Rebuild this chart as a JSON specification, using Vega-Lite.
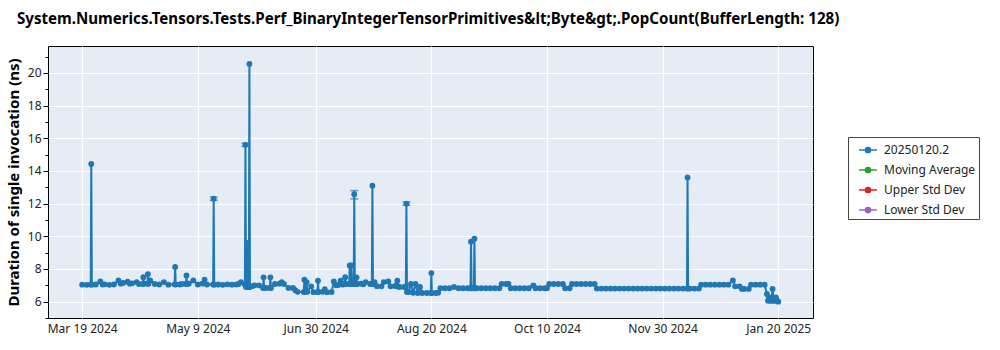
{
  "$schema": "https://vega.github.io/schema/vega-lite/v6.json",
  "autosize": "none",
  "width": 765,
  "height": 272,
  "padding": {"left": 48, "top": 46, "right": 187, "bottom": 32},
  "background": "#ffffff",
  "title": {
    "text": "System.Numerics.Tensors.Tests.Perf_BinaryIntegerTensorPrimitives&lt;Byte&gt;.PopCount(BufferLength: 128)",
    "anchor": "start",
    "frame": "group",
    "dx": -31,
    "offset": 19,
    "font": "Noto Sans",
    "fontSize": 15.1,
    "fontWeight": "bold",
    "color": "#000000"
  },
  "config": {
    "view": {"fill": "#e5ecf6", "stroke": "#000000", "strokeWidth": 1},
    "font": "Noto Sans",
    "legend": {
      "orient": "none",
      "legendX": 800,
      "legendY": 91,
      "strokeColor": "#444444",
      "fillColor": "#ffffff",
      "padding": 3,
      "rowPadding": 4,
      "symbolOffset": 7,
      "labelFont": "Noto Sans",
      "labelFontSize": 12,
      "labelColor": "#222222",
      "labelOffset": 6,
      "title": null
    }
  },
  "data": {"values": [
    {"d": "2024-03-19", "v": 7.04}, {"d": "2024-03-21", "v": 7.03}, {"d": "2024-03-22T18:00", "v": 7.05},
    {"d": "2024-03-23", "v": 14.43}, {"d": "2024-03-23T06:00", "v": 7.04}, {"d": "2024-03-25", "v": 7.05},
    {"d": "2024-03-27", "v": 7.24}, {"d": "2024-03-28", "v": 7.05}, {"d": "2024-03-29", "v": 7.06},
    {"d": "2024-03-31", "v": 7.03},
    {"d": "2024-04-02", "v": 7.05}, {"d": "2024-04-04", "v": 7.3}, {"d": "2024-04-05", "v": 7.1},
    {"d": "2024-04-06", "v": 7.15}, {"d": "2024-04-08", "v": 7.22}, {"d": "2024-04-09", "v": 7.1},
    {"d": "2024-04-10", "v": 7.12}, {"d": "2024-04-12", "v": 7.2}, {"d": "2024-04-13", "v": 7.08},
    {"d": "2024-04-14T18:00", "v": 7.08}, {"d": "2024-04-15", "v": 7.5}, {"d": "2024-04-15T06:00", "v": 7.1},
    {"d": "2024-04-16T18:00", "v": 7.1}, {"d": "2024-04-17", "v": 7.69}, {"d": "2024-04-17T06:00", "v": 7.1},
    {"d": "2024-04-18", "v": 7.3}, {"d": "2024-04-20", "v": 7.08},
    {"d": "2024-04-22", "v": 7.05}, {"d": "2024-04-24", "v": 7.2}, {"d": "2024-04-26", "v": 7.04},
    {"d": "2024-04-28T18:00", "v": 7.06}, {"d": "2024-04-29", "v": 8.12}, {"d": "2024-04-29T06:00", "v": 7.05},
    {"d": "2024-05-01", "v": 7.05},
    {"d": "2024-05-02", "v": 7.08}, {"d": "2024-05-03T18:00", "v": 7.08}, {"d": "2024-05-04", "v": 7.6},
    {"d": "2024-05-04T06:00", "v": 7.08}, {"d": "2024-05-05", "v": 7.1},
    {"d": "2024-05-07", "v": 7.3}, {"d": "2024-05-09", "v": 7.05}, {"d": "2024-05-11", "v": 7.1},
    {"d": "2024-05-12", "v": 7.35}, {"d": "2024-05-13", "v": 7.05}, {"d": "2024-05-15T18:00", "v": 7.05},
    {"d": "2024-05-16", "v": 12.3, "lo": 12.2, "hi": 12.4}, {"d": "2024-05-16T06:00", "v": 7.04},
    {"d": "2024-05-18", "v": 7.05}, {"d": "2024-05-20", "v": 7.03}, {"d": "2024-05-22", "v": 7.06},
    {"d": "2024-05-24", "v": 7.04}, {"d": "2024-05-26", "v": 7.05}, {"d": "2024-05-27", "v": 7.08}, {"d": "2024-05-28", "v": 7.2},
    {"d": "2024-05-29T18:00", "v": 7.05},
    {"d": "2024-05-30T00:00", "v": 15.6, "lo": 15.5, "hi": 15.7}, {"d": "2024-05-30T06:00", "v": 6.9},
    {"d": "2024-05-30T12:00", "v": 6.9}, {"d": "2024-05-30T16:00", "v": 9.6}, {"d": "2024-05-30T20:00", "v": 6.9},
    {"d": "2024-05-31T12:00", "v": 6.9}, {"d": "2024-05-31T18:00", "v": 20.55}, {"d": "2024-06-01T00:00", "v": 6.9},
    {"d": "2024-06-02", "v": 6.95}, {"d": "2024-06-03", "v": 7.0}, {"d": "2024-06-05", "v": 7.0},
    {"d": "2024-06-06T18:00", "v": 6.84}, {"d": "2024-06-07", "v": 7.49}, {"d": "2024-06-07T06:00", "v": 6.84},
    {"d": "2024-06-08", "v": 6.84}, {"d": "2024-06-09T18:00", "v": 6.84},
    {"d": "2024-06-10", "v": 7.49}, {"d": "2024-06-10T06:00", "v": 6.84}, {"d": "2024-06-12", "v": 7.08},
    {"d": "2024-06-14", "v": 7.1}, {"d": "2024-06-15", "v": 7.2}, {"d": "2024-06-16", "v": 7.08},
    {"d": "2024-06-18", "v": 6.84}, {"d": "2024-06-20", "v": 6.84}, {"d": "2024-06-21", "v": 6.7},
    {"d": "2024-06-22", "v": 6.6}, {"d": "2024-06-24T18:00", "v": 6.59}, {"d": "2024-06-25", "v": 7.34},
    {"d": "2024-06-25T06:00", "v": 6.6}, {"d": "2024-06-26", "v": 7.2}, {"d": "2024-06-26T06:00", "v": 6.6},
    {"d": "2024-06-28", "v": 6.94}, {"d": "2024-06-29", "v": 6.58},
    {"d": "2024-06-30T18:00", "v": 6.58}, {"d": "2024-07-01", "v": 7.28}, {"d": "2024-07-01T06:00", "v": 6.6},
    {"d": "2024-07-03", "v": 6.6}, {"d": "2024-07-04", "v": 6.77},
    {"d": "2024-07-05", "v": 6.58}, {"d": "2024-07-07", "v": 6.59}, {"d": "2024-07-08", "v": 7.24},
    {"d": "2024-07-09", "v": 7.0}, {"d": "2024-07-10", "v": 7.02}, {"d": "2024-07-11", "v": 7.28},
    {"d": "2024-07-12", "v": 7.05}, {"d": "2024-07-12T18:00", "v": 7.08}, {"d": "2024-07-13", "v": 7.5},
    {"d": "2024-07-13T06:00", "v": 7.08}, {"d": "2024-07-14T18:00", "v": 7.08},
    {"d": "2024-07-15", "v": 8.22}, {"d": "2024-07-15T08:00", "v": 7.08}, {"d": "2024-07-15T16:00", "v": 8.22},
    {"d": "2024-07-16", "v": 7.08}, {"d": "2024-07-16T18:00", "v": 7.08},
    {"d": "2024-07-17", "v": 12.58, "lo": 12.29, "hi": 12.8}, {"d": "2024-07-17T06:00", "v": 7.08},
    {"d": "2024-07-17T18:00", "v": 7.08}, {"d": "2024-07-18", "v": 7.49}, {"d": "2024-07-18T06:00", "v": 7.08},
    {"d": "2024-07-20", "v": 7.1}, {"d": "2024-07-21", "v": 7.06},
    {"d": "2024-07-22", "v": 7.2}, {"d": "2024-07-24", "v": 7.08}, {"d": "2024-07-24T18:00", "v": 7.08},
    {"d": "2024-07-25", "v": 13.1}, {"d": "2024-07-25T06:00", "v": 7.08},
    {"d": "2024-07-26", "v": 7.2}, {"d": "2024-07-27", "v": 6.95}, {"d": "2024-07-29", "v": 6.94},
    {"d": "2024-07-30", "v": 7.2},
    {"d": "2024-08-01", "v": 7.24}, {"d": "2024-08-02", "v": 6.94}, {"d": "2024-08-04", "v": 6.96},
    {"d": "2024-08-04T18:00", "v": 6.94}, {"d": "2024-08-05", "v": 7.28}, {"d": "2024-08-05T06:00", "v": 6.94},
    {"d": "2024-08-06", "v": 6.9}, {"d": "2024-08-08", "v": 6.9}, {"d": "2024-08-08T18:00", "v": 6.9},
    {"d": "2024-08-09", "v": 12.0, "lo": 11.9, "hi": 12.1}, {"d": "2024-08-09T06:00", "v": 6.59},
    {"d": "2024-08-10", "v": 6.59},
    {"d": "2024-08-11", "v": 7.08}, {"d": "2024-08-12", "v": 6.55}, {"d": "2024-08-13", "v": 7.08},
    {"d": "2024-08-14", "v": 6.53}, {"d": "2024-08-15", "v": 6.9}, {"d": "2024-08-16", "v": 6.53},
    {"d": "2024-08-18", "v": 6.53}, {"d": "2024-08-19T18:00", "v": 6.53}, {"d": "2024-08-20", "v": 7.75},
    {"d": "2024-08-20T06:00", "v": 6.53}, {"d": "2024-08-22", "v": 6.53},
    {"d": "2024-08-23", "v": 6.55}, {"d": "2024-08-24", "v": 6.82}, {"d": "2024-08-26", "v": 6.82},
    {"d": "2024-08-28", "v": 6.82}, {"d": "2024-08-30", "v": 6.9},
    {"d": "2024-09-01", "v": 6.82}, {"d": "2024-09-03", "v": 6.82}, {"d": "2024-09-05", "v": 6.82},
    {"d": "2024-09-06T06:00", "v": 6.82}, {"d": "2024-09-06T12:00", "v": 9.67}, {"d": "2024-09-06T18:00", "v": 6.82},
    {"d": "2024-09-07T18:00", "v": 6.82}, {"d": "2024-09-08", "v": 9.85}, {"d": "2024-09-08T06:00", "v": 6.82},
    {"d": "2024-09-09", "v": 6.82}, {"d": "2024-09-11", "v": 6.82}, {"d": "2024-09-13", "v": 6.82},
    {"d": "2024-09-15", "v": 6.82}, {"d": "2024-09-17", "v": 6.82}, {"d": "2024-09-19", "v": 6.82},
    {"d": "2024-09-20", "v": 7.08}, {"d": "2024-09-22", "v": 7.08}, {"d": "2024-09-23", "v": 7.08},
    {"d": "2024-09-24", "v": 6.82}, {"d": "2024-09-26", "v": 6.82}, {"d": "2024-09-28", "v": 6.82},
    {"d": "2024-09-30", "v": 6.82},
    {"d": "2024-10-02", "v": 6.82}, {"d": "2024-10-04", "v": 7.0}, {"d": "2024-10-05", "v": 6.82},
    {"d": "2024-10-07", "v": 6.82}, {"d": "2024-10-09", "v": 6.82}, {"d": "2024-10-10", "v": 6.82},
    {"d": "2024-10-11", "v": 7.08}, {"d": "2024-10-13", "v": 7.08}, {"d": "2024-10-15", "v": 7.08},
    {"d": "2024-10-17", "v": 7.08}, {"d": "2024-10-18", "v": 6.82}, {"d": "2024-10-20", "v": 6.82},
    {"d": "2024-10-21", "v": 7.08}, {"d": "2024-10-23", "v": 7.08}, {"d": "2024-10-25", "v": 7.08},
    {"d": "2024-10-27", "v": 7.08}, {"d": "2024-10-29", "v": 7.08}, {"d": "2024-10-31", "v": 7.08},
    {"d": "2024-11-01", "v": 6.8}, {"d": "2024-11-03", "v": 6.8}, {"d": "2024-11-05", "v": 6.8},
    {"d": "2024-11-07", "v": 6.8}, {"d": "2024-11-09", "v": 6.8}, {"d": "2024-11-11", "v": 6.8},
    {"d": "2024-11-13", "v": 6.8}, {"d": "2024-11-15", "v": 6.8}, {"d": "2024-11-17", "v": 6.8},
    {"d": "2024-11-19", "v": 6.8}, {"d": "2024-11-21", "v": 6.8}, {"d": "2024-11-23", "v": 6.8},
    {"d": "2024-11-25", "v": 6.8}, {"d": "2024-11-27", "v": 6.8}, {"d": "2024-11-29", "v": 6.8},
    {"d": "2024-12-01", "v": 6.8}, {"d": "2024-12-03", "v": 6.8}, {"d": "2024-12-05", "v": 6.8},
    {"d": "2024-12-07", "v": 6.8}, {"d": "2024-12-09", "v": 6.8}, {"d": "2024-12-10T18:00", "v": 6.8},
    {"d": "2024-12-11", "v": 13.6}, {"d": "2024-12-11T06:00", "v": 6.8}, {"d": "2024-12-12", "v": 6.8},
    {"d": "2024-12-14", "v": 6.8},
    {"d": "2024-12-16", "v": 6.8}, {"d": "2024-12-17", "v": 7.04}, {"d": "2024-12-19", "v": 7.04},
    {"d": "2024-12-21", "v": 7.04}, {"d": "2024-12-23", "v": 7.04}, {"d": "2024-12-25", "v": 7.04},
    {"d": "2024-12-27", "v": 7.04}, {"d": "2024-12-29", "v": 7.04}, {"d": "2024-12-31", "v": 7.3},
    {"d": "2025-01-01", "v": 6.94}, {"d": "2025-01-03", "v": 6.94}, {"d": "2025-01-04", "v": 6.78},
    {"d": "2025-01-05", "v": 6.78}, {"d": "2025-01-07", "v": 6.78}, {"d": "2025-01-08", "v": 7.04},
    {"d": "2025-01-10", "v": 7.04}, {"d": "2025-01-12", "v": 7.04}, {"d": "2025-01-14", "v": 7.04},
    {"d": "2025-01-15", "v": 6.47}, {"d": "2025-01-15T12:00", "v": 6.06}, {"d": "2025-01-16", "v": 6.26},
    {"d": "2025-01-16T12:00", "v": 6.06}, {"d": "2025-01-17", "v": 6.06}, {"d": "2025-01-17T12:00", "v": 6.78},
    {"d": "2025-01-18", "v": 6.06}, {"d": "2025-01-18T12:00", "v": 6.06}, {"d": "2025-01-19", "v": 6.26},
    {"d": "2025-01-19T12:00", "v": 6.06}, {"d": "2025-01-20", "v": 6.0}
  ]},
  "encoding": {
    "x": {
      "field": "d",
      "type": "temporal",
      "title": null,
      "scale": {"domain": [{"year": 2024, "month": 3, "date": 3, "hours": 22}, {"year": 2025, "month": 2, "date": 4, "hours": 8}]},
      "axis": {
        "values": [
          {"year": 2024, "month": 3, "date": 19}, {"year": 2024, "month": 5, "date": 9},
          {"year": 2024, "month": 6, "date": 30}, {"year": 2024, "month": 8, "date": 20},
          {"year": 2024, "month": 10, "date": 10}, {"year": 2024, "month": 11, "date": 30},
          {"year": 2025, "month": 1, "date": 20}
        ],
        "format": "%b %-d %Y",
        "labelFont": "Noto Sans",
        "labelFontSize": 12,
        "labelColor": "#222222",
        "labelPadding": 5,
        "ticks": false,
        "domain": false,
        "grid": true,
        "gridColor": "#ffffff",
        "gridWidth": 1.2,
        "labelFlush": false
      }
    },
    "y": {
      "field": "v",
      "type": "quantitative",
      "title": "Duration of single invocation (ns)",
      "scale": {"domain": [5.0, 21.65], "nice": false, "zero": false},
      "axis": {
        "values": [5, 5.5, 6, 6.5, 7, 7.5, 8, 8.5, 9, 9.5, 10, 10.5, 11, 11.5, 12, 12.5, 13, 13.5, 14, 14.5, 15, 15.5, 16, 16.5, 17, 17.5, 18, 18.5, 19, 19.5, 20, 20.5, 21, 21.5],
        "format": "d",
        "labelExpr": "datum.value % 2 === 0 ? datum.label : ''",
        "tickSize": {"condition": {"test": "datum.value % 2 === 0", "value": 5}, "value": 3},
        "tickColor": "#000000",
        "domain": false,
        "grid": true,
        "gridColor": "#ffffff",
        "gridWidth": 1.2,
        "gridOpacity": {"condition": {"test": "datum.value % 2 === 0", "value": 1}, "value": 0},
        "labelFont": "Noto Sans",
        "labelFontSize": 12,
        "labelColor": "#222222",
        "labelPadding": 2,
        "titleFont": "Noto Sans",
        "titleFontSize": 15,
        "titleFontWeight": "bold",
        "titleColor": "#000000",
        "titlePadding": 6
      }
    }
  },
  "layer": [
    {
      "mark": {"type": "line", "strokeWidth": 2, "point": {"filled": true, "size": 34, "opacity": 1}},
      "encoding": {
        "color": {
          "datum": "20250120.2",
          "scale": {
            "domain": ["20250120.2", "Moving Average", "Upper Std Dev", "Lower Std Dev"],
            "range": ["#1f77b4", "#2ca02c", "#d62728", "#9467bd"]
          },
          "legend": {
            "symbolType": "M-1,0L1,0M0.3,0A0.3,0.3,0,1,1,-0.3,0A0.3,0.3,0,1,1,0.3,0Z",
            "symbolSize": 324,
            "symbolStrokeWidth": 1.3,
            "symbolOpacity": 1,
            "encode": {
              "symbols": {
                "update": {
                  "fill": {"scale": "color", "field": "value"},
                  "stroke": {"scale": "color", "field": "value"}
                }
              }
            }
          }
        }
      }
    },
    {
      "transform": [{"filter": "isValid(datum.lo)"}],
      "mark": {"type": "errorbar", "color": "#1f77b4", "ticks": {"size": 8, "color": "#1f77b4"}, "thickness": 1.5},
      "encoding": {
        "y": {"field": "lo", "type": "quantitative"},
        "y2": {"field": "hi"}
      }
    }
  ]
}
